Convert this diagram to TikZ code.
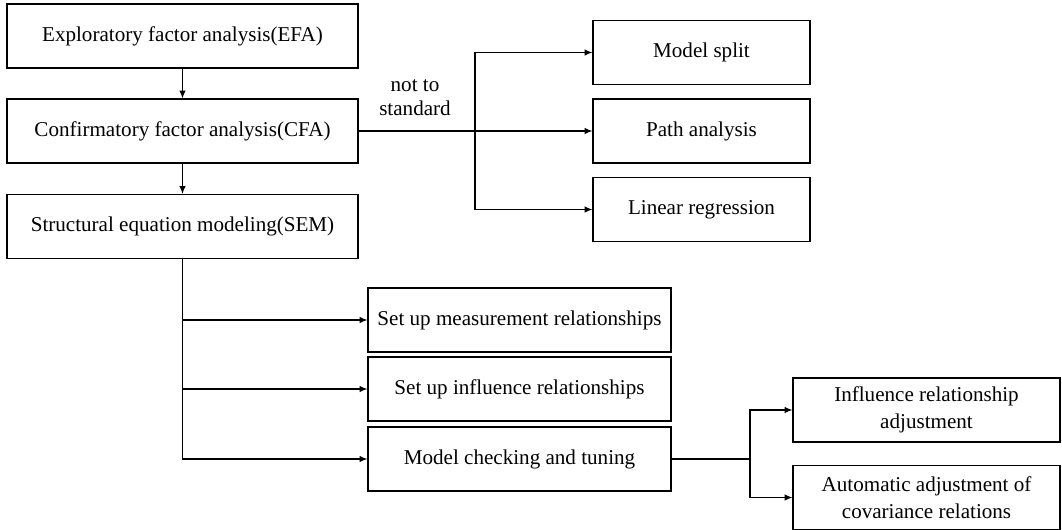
\documentclass[tikz,border=0pt]{standalone}
\usepackage{fontspec}
\setmainfont{Liberation Serif}
\usetikzlibrary{arrows.meta,positioning}
\tikzset{
  box/.style={draw, line width=0.8pt, minimum height=1.6cm, inner sep=2pt, align=center, font=\fontsize{15}{19}\selectfont},
  arr/.style={line width=0.75pt, -{Latex[length=5.5pt,width=4.5pt]}},
  ln/.style={line width=0.75pt}
}
\begin{document}
\begin{tikzpicture}[x=0.025cm, y=-0.025cm]
\useasboundingbox (0,0) rectangle (1062,530);
% left column
\node[box, minimum width=8.775cm] (efa) at (182.5,36) {Exploratory factor analysis(EFA)};
\node[box, minimum width=8.775cm] (cfa) at (182.5,131) {Confirmatory factor analysis(CFA)};
\node[box, minimum width=8.775cm] (sem) at (182.5,226.5) {Structural equation modeling(SEM)};
\draw[arr] (efa) -- (cfa);
\draw[arr] (cfa) -- (sem);
% alternatives
\node[box, minimum width=5.425cm] (split) at (701.5,52.5) {Model split};
\node[box, minimum width=5.425cm] (path) at (701.5,131) {Path analysis};
\node[box, minimum width=5.425cm] (linreg) at (701.5,209.5) {Linear regression};
\coordinate (fork) at (475,131);
\draw[arr] (cfa.east) -- (path.west);
\draw[arr] (fork) |- (split.west);
\draw[arr] (fork) |- (linreg.west);
\node[align=center, font=\fontsize{15}{17}\selectfont] (nts) at (415,98) {not to\\standard};
% SEM steps
\node[box, minimum width=7.575cm] (meas) at (519.5,320) {Set up measurement relationships};
\node[box, minimum width=7.575cm] (infl) at (519.5,389) {Set up influence relationships};
\node[box, minimum width=7.575cm] (check) at (519.5,459) {Model checking and tuning};
\draw[arr] (sem.south) |- (check.west);
\draw[arr] (sem.south |- meas.west) -- (meas.west);
\draw[arr] (sem.south |- infl.west) -- (infl.west);
% tuning
\node[box, minimum width=6.675cm] (adj) at (926.5,410) {Influence relationship\\adjustment};
\node[box, minimum width=6.675cm] (cov) at (926.5,497.5) {Automatic adjustment of\\covariance relations};
\coordinate (fork2) at (750,459);
\draw[ln] (check.east) -- (fork2);
\draw[arr] (fork2) |- (adj.west);
\draw[arr] (fork2) |- (cov.west);
\end{tikzpicture}
\end{document}
